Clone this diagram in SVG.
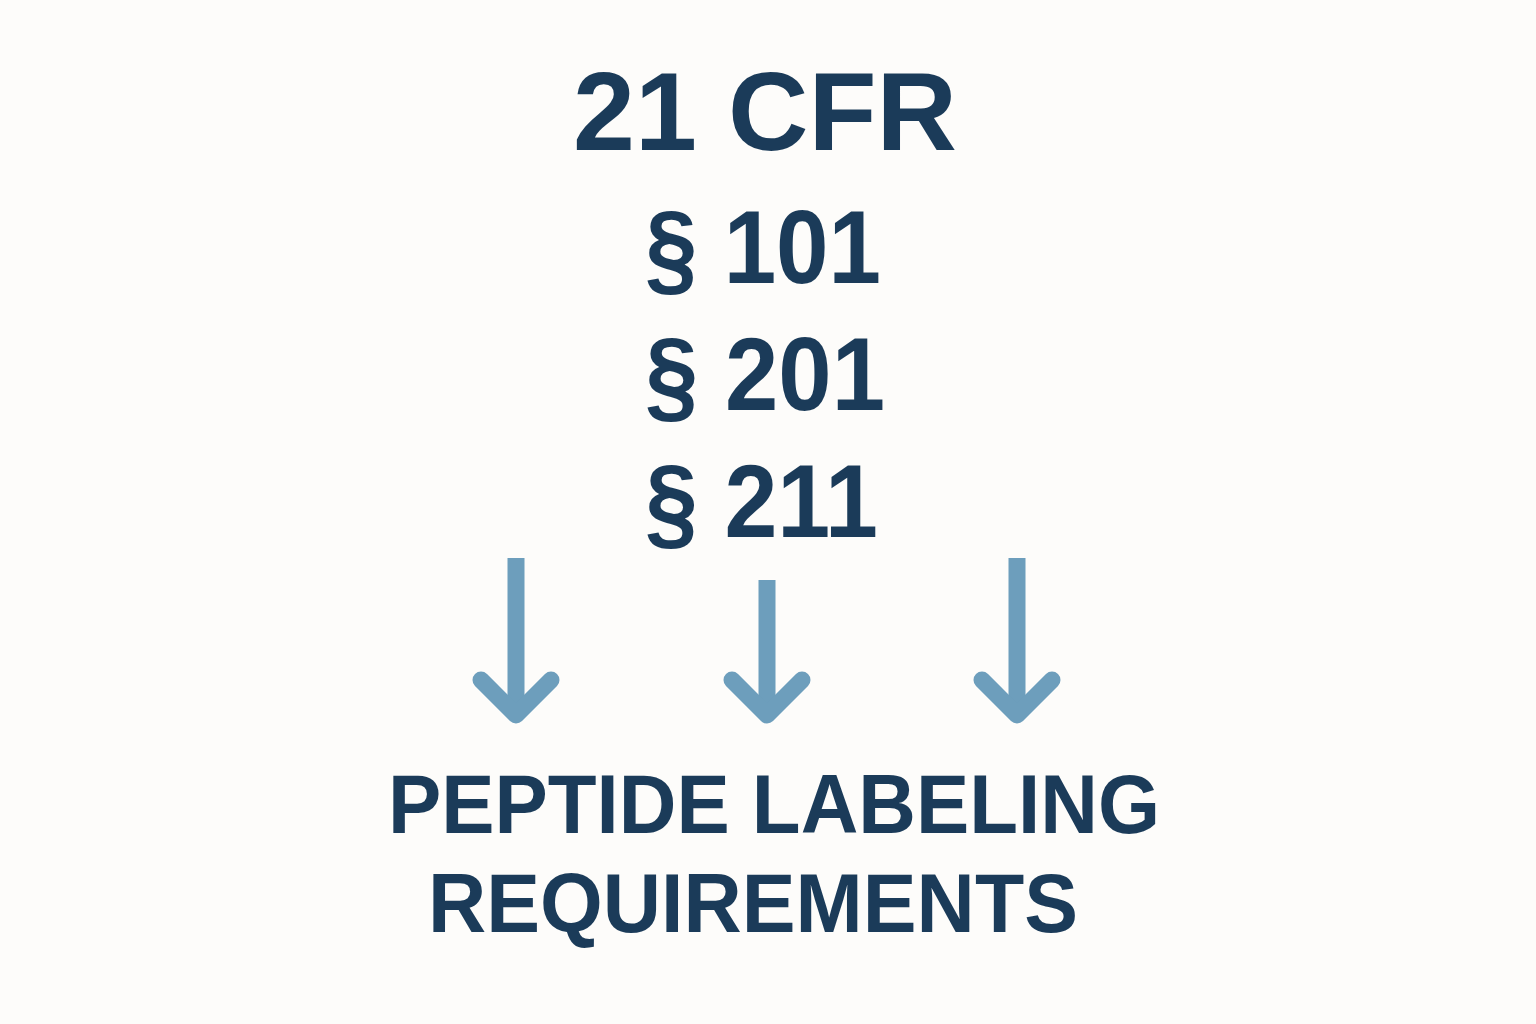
<svg xmlns="http://www.w3.org/2000/svg" width="1536" height="1024" viewBox="0 0 1536 1024">
<style>
.t{font-family:"Liberation Sans",Arial,sans-serif;font-weight:bold;fill:#1b3b59}
.sec{font-size:104px}
.arr{fill:none;stroke:#6d9ebc;stroke-width:17}
.head{stroke-linecap:round;stroke-linejoin:round}
</style>
<rect width="1536" height="1024" fill="#fdfcfa"/>
<g id="title"><text class="t" x="573" y="150" font-size="111" textLength="384" lengthAdjust="spacingAndGlyphs">21 CFR</text></g>
<g id="sec101"><text class="t sec" x="645" y="283" textLength="236" lengthAdjust="spacingAndGlyphs">§ 101</text></g>
<g id="sec201"><text class="t sec" x="645" y="410" textLength="240" lengthAdjust="spacingAndGlyphs">§ 201</text></g>
<g id="sec211"><text class="t sec" x="645" y="537" textLength="233" lengthAdjust="spacingAndGlyphs">§ 211</text></g>
<g id="connectors">
<line class="arr" x1="516" y1="558" x2="516" y2="712"/>
<path class="arr head" d="M481 680 L516 715 L551 680"/>
<line class="arr" x1="767" y1="580" x2="767" y2="712"/>
<path class="arr head" d="M732 680 L767 715 L802 680"/>
<line class="arr" x1="1017" y1="558" x2="1017" y2="712"/>
<path class="arr head" d="M982 680 L1017 715 L1052 680"/>
</g>
<g id="result">
<text class="t" x="388" y="833" font-size="83" textLength="772" lengthAdjust="spacingAndGlyphs">PEPTIDE LABELING</text>
<text class="t" x="428" y="932" font-size="83" textLength="650" lengthAdjust="spacingAndGlyphs">REQUIREMENTS</text>
</g>
</svg>
